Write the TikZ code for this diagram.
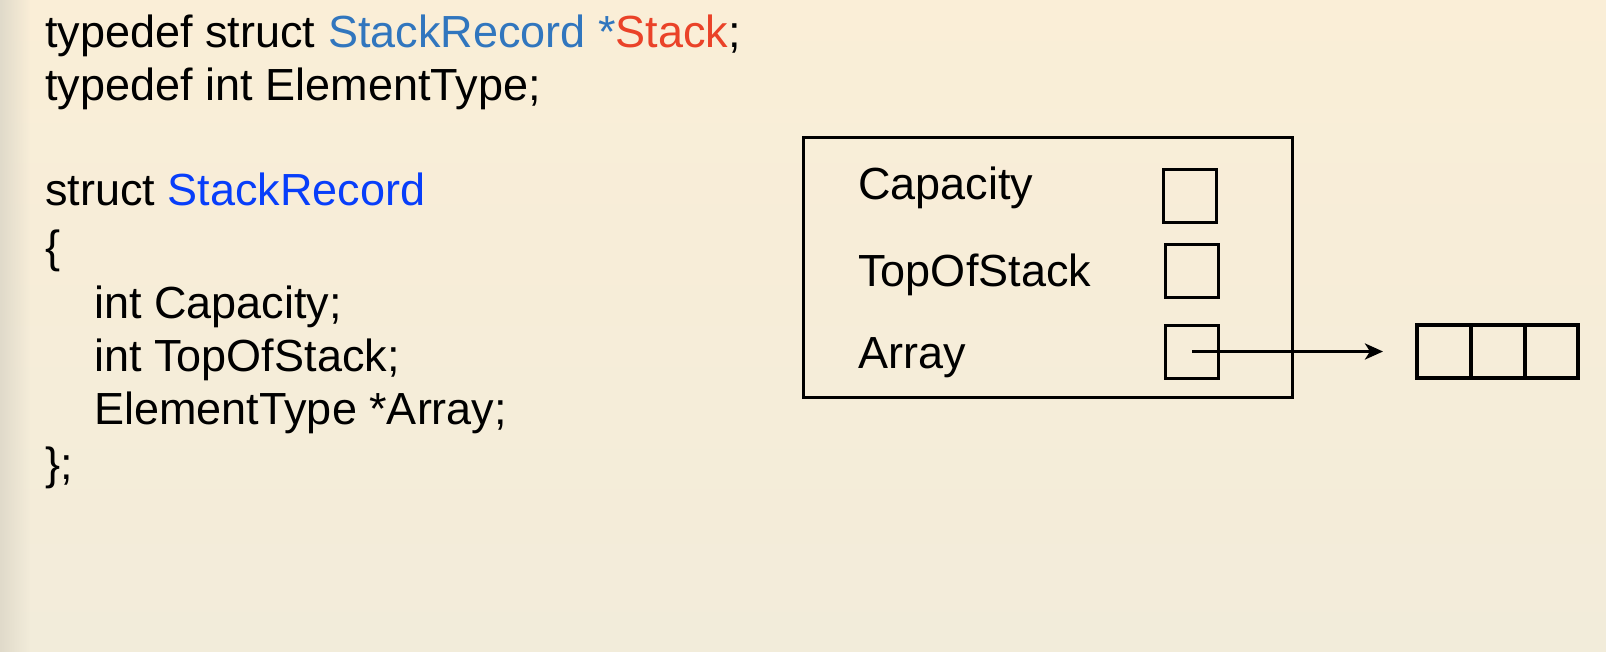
\documentclass[tikz,border=0pt]{standalone}
\usepackage{fontspec}
\setmainfont{Liberation Sans}
\usetikzlibrary{arrows.meta,fadings}

\definecolor{bgtop}{RGB}{250,238,215}
\definecolor{bgbottom}{RGB}{242,236,218}
\definecolor{bgedge}{RGB}{224,218,202}
\definecolor{recblue}{RGB}{49,118,190}
\definecolor{ptrred}{RGB}{234,66,40}
\definecolor{structblue}{RGB}{8,62,250}

\tikzset{
  code/.style={anchor=base west, inner sep=0pt, font=\fontsize{22.5pt}{27pt}\selectfont},
  field/.style={draw, line width=1.5pt, minimum width=26.5pt, minimum height=26.5pt, inner sep=0pt, outer sep=0pt},
  cell/.style={draw, line width=2pt, minimum width=26.85pt, minimum height=26.5pt, inner sep=0pt, outer sep=0pt}
}

\begin{document}
\begin{tikzpicture}[x=0.5pt,y=0.5pt,yscale=-1,xscale=1]
	\useasboundingbox (0,0) rectangle (1606,652);
	%Background
	\shade [top color=bgtop, bottom color=bgbottom] (0,0) rectangle (1606,652);
	\fill [bgedge, path fading=east] (0,0) rectangle (30,652);
	
	% Text Node
	\node [code] (td1) at (45,48) {typedef struct \textcolor{recblue}{StackRecord *}\textcolor{ptrred}{Stack};};
	% Text Node
	\node [code] (td2) at (45,101) {typedef int ElementType;};
	% Text Node
	\node [code] (st) at (45,206) {struct \textcolor{structblue}{StackRecord}};
	% Text Node
	\node [code] (lb) at (45,263) {\{};
	% Text Node
	\node [code] (f1) at (94,318) {int Capacity;};
	% Text Node
	\node [code] (f2) at (94,371) {int TopOfStack;};
	% Text Node
	\node [code] (f3) at (94,424) {ElementType *Array;};
	% Text Node
	\node [code] (rb) at (45,479) {\};};
	
	%Shape: Rectangle
	\draw [line width=1.5pt] (803,138) rectangle (1292,397);
	% Text Node
	\node [code] (capl) at (858,200) {Capacity};
	% Text Node
	\node [code] (topl) at (858,286) {TopOfStack};
	% Text Node
	\node [code] (arrl) at (858,368) {Array};
	%Shape: Square
	\node [field] (cap) at (1190,196) {};
	%Shape: Square
	\node [field] (top) at (1192,271) {};
	%Shape: Square
	\node [field] (arr) at (1192,351.5) {};
	
	%Shape: Array cells
	\node [cell] (c1) at (1444,351.5) {};
	\node [cell] (c2) at (1497.7,351.5) {};
	\node [cell] (c3) at (1551.4,351.5) {};
	
	%Straight Lines
	\coordinate (ptr) at (1383,351.5);
	\draw [line width=1.8pt, -{Stealth[length=9pt,width=8pt,inset=2.5pt]}] (arr.center) -- (ptr);
	
\end{tikzpicture}
\end{document}
